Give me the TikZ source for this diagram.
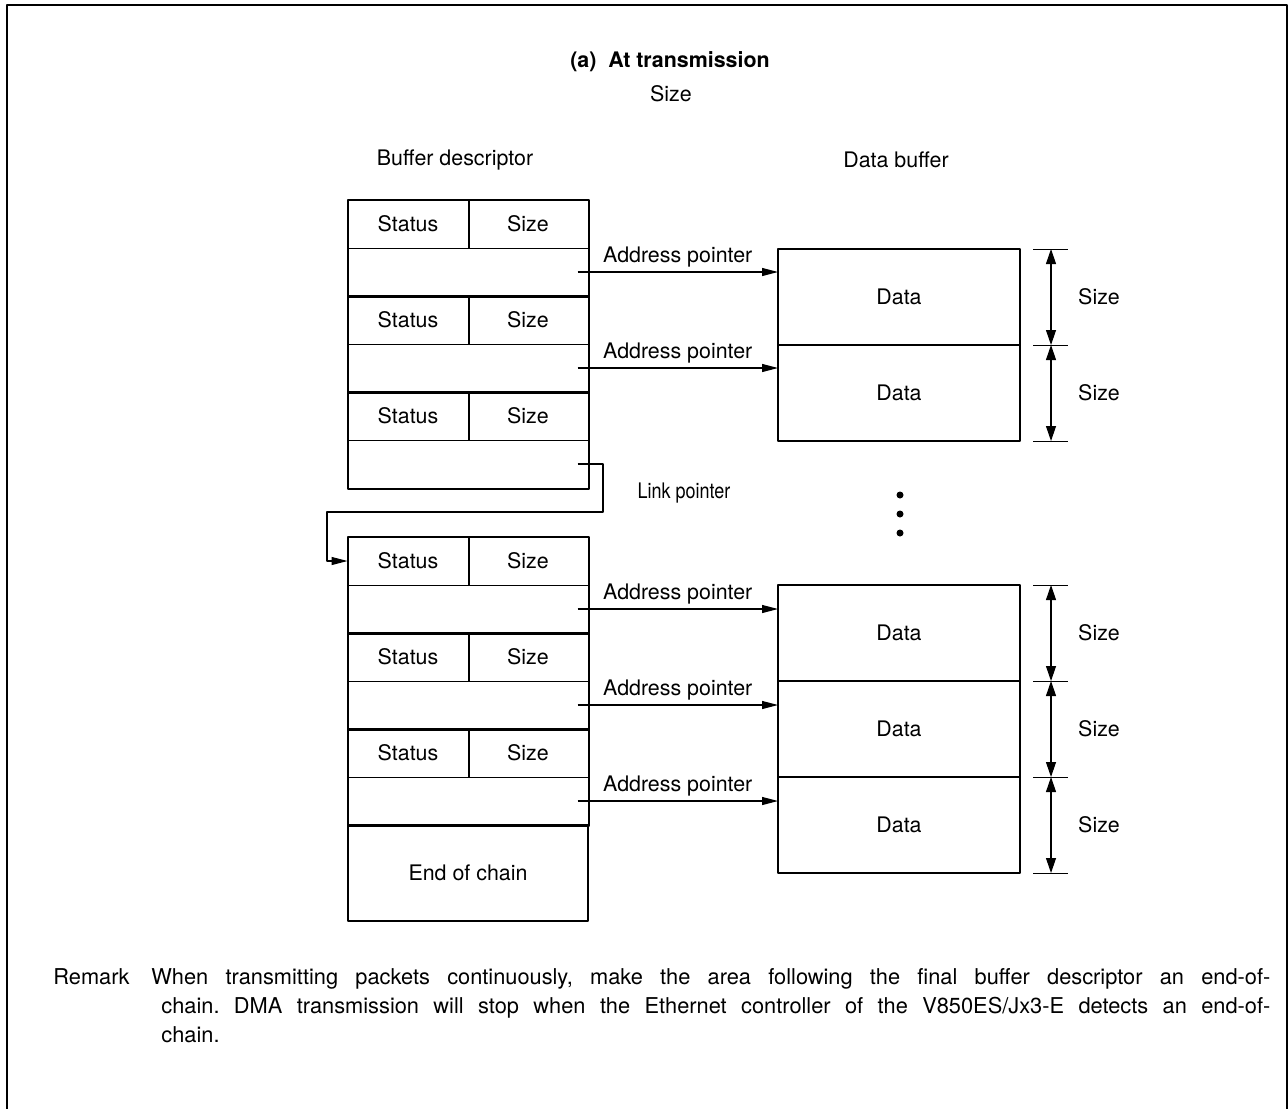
\documentclass[tikz,border=0pt]{standalone}
\usepackage{fontspec}
\setmainfont{TeX Gyre Heros}
\usetikzlibrary{arrows.meta}
\tikzset{
  every picture/.style={line join=round, >={Triangle[length=8pt,width=4pt]}},
  cell/.style={draw, line width=0.5pt, inner sep=0pt, minimum width=60pt, minimum height=24pt},
  wide/.style={cell, minimum width=120pt},
  databox/.style={draw, line width=1pt, inner sep=0pt, outer sep=0pt, minimum width=121pt, minimum height=48pt},
  bord/.style={line width=1pt},
  frameline/.style={line width=1.15pt},
  ptrline/.style={line width=0.55pt, -{Triangle[length=8pt,width=4pt]}},
  dimline/.style={line width=0.55pt, {Triangle[length=7.5pt,width=5pt]}-{Triangle[length=7.5pt,width=5pt]}},
  tickline/.style={line width=0.5pt},
  remline/.style={anchor=base west, inner sep=0pt, font=\fontsize{10.9}{14.5}\selectfont\frenchspacing},
}

\begin{document}
\begin{tikzpicture}[x=0.5pt, y=-0.5pt, font=\fontsize{10.7}{14.5}\selectfont]
\useasboundingbox (0,0) rectangle (1288,1108);
\draw[frameline] (7,1120) -- (7,5) -- (1287,5) -- (1287,1120);

% headings
\node[font=\fontsize{10.7}{13}\selectfont\bfseries] (title) at (670,62) {(a)\hspace{0.55em}At transmission};
\node (sizetop) at (671,94) {Size};
\node (bdlab) at (455,160) {Buffer descriptor};
\node (dblab) at (896,160) {Data buffer};

% buffer descriptors
\foreach \i/\t in {1/200,2/296,3/392,4/537,5/633,6/729}{
  \node[cell] (st\i) at (408,\t+24) {Status};
  \node[cell] (sz\i) at (528,\t+24) {Size};
  \node[wide] (ptr\i) at (468,\t+72) {};
  \draw[bord] (st\i.north west) rectangle (ptr\i.south east);
  \draw[bord] (st\i.north east) -- (st\i.south east);
}
\node[wide, bord, minimum height=48pt] (eoc) at (468,873) {End of chain};

% data buffers
\foreach \j/\c in {1/297,2/393,3/633,4/729,5/825}{
  \node[databox] (d\j) at (899,\c) {Data};
  \draw[tickline] ([xshift=6.5pt]d\j.north east) -- ++(17.5pt,0);
  \draw[dimline] ([xshift=15.5pt]d\j.north east) -- ([xshift=15.5pt]d\j.south east)
    node[midway, right=10pt] (sl\j) {Size};
}
\foreach \j in {2,5}
  \draw[tickline] ([xshift=6.5pt]d\j.south east) -- ++(17.5pt,0);
\foreach \y in {495,514,533} \fill (900,\y) circle (1.75pt);

% pointers
\foreach \i/\j in {1/1,2/2,4/3,5/4,6/5}
  \draw[ptrline] ([xshift=-5.5pt]ptr\i.east) -- (d\j.west |- ptr\i.east)
    node[midway, above=-1pt] {Address pointer};
\coordinate (lk1) at (603,512);
\coordinate (lk2) at (327,512);
\draw[ptrline] ([xshift=-5.5pt]ptr3.east) -| (lk1) -- (lk2) |- (st4.west);
\node (lptr) at (684,493) {\scalebox{0.84}[1]{Link pointer}};

% remark
\node[remline] (rem) at (53,984) {Remark};
\node[remline] (rl1) at (151,984) {\makebox[559.5pt][s]{When transmitting packets continuously, make the area following the final buffer descriptor an end-of-}};
\node[remline] (rl2) at (161,1013) {\makebox[554.5pt][s]{chain. DMA transmission will stop when the Ethernet controller of the V850ES/Jx3-E detects an end-of-}};
\node[remline] (rl3) at (161,1042) {chain.};
\end{tikzpicture}
\end{document}
